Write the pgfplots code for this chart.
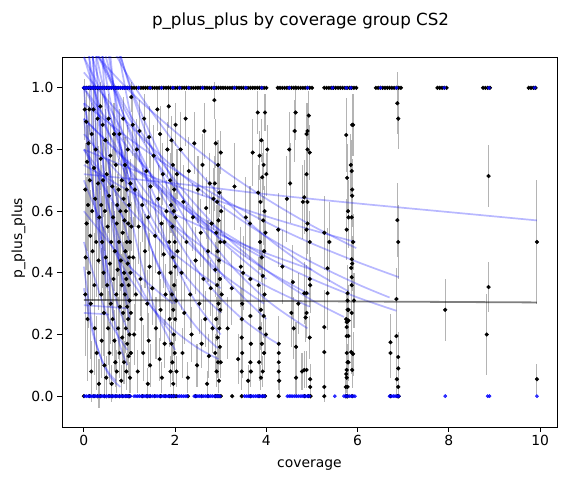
\documentclass[border=0pt]{standalone}
\usepackage{fontspec}
\setmainfont{DejaVu Sans}
\usepackage{pgfplots}
\pgfplotsset{compat=1.18}
\usepackage{pgfplotstable}
\definecolor{ebar}{RGB}{180,180,180}
\pgfplotstableread{
x y e
0.02 0.93 0.10
0.03 0.67 0.15
0.04 0.45 0.20
0.03 0.33 0.20
0.05 0.89 0.10
0.06 0.56 0.15
0.07 0.76 0.12
0.08 0.25 0.20
0.09 0.62 0.15
0.10 0.82 0.12
0.11 0.40 0.18
0.12 0.93 0.08
0.13 0.70 0.13
0.14 0.52 0.15
0.15 0.30 0.18
0.16 0.08 0.10
0.17 0.85 0.10
0.18 0.60 0.15
0.19 0.47 0.16
0.21 0.93 0.08
0.22 0.74 0.12
0.23 0.36 0.17
0.24 0.22 0.15
0.25 0.64 0.14
0.26 0.80 0.10
0.27 0.50 0.18
0.28 0.14 0.12
0.30 0.90 0.10
0.31 0.69 0.12
0.32 0.44 0.16
0.33 0.04 0.08
0.34 0.58 0.15
0.36 0.94 0.08
0.37 0.77 0.10
0.38 0.62 0.13
0.38 0.33 0.15
0.39 0.18 0.12
0.40 0.50 0.15
0.41 0.88 0.10
0.42 0.70 0.12
0.43 0.40 0.15
0.44 0.27 0.14
0.45 0.10 0.10
0.46 0.60 0.13
0.47 0.83 0.10
0.48 0.45 0.14
0.49 0.06 0.07
0.50 0.72 0.12
0.51 0.36 0.14
0.52 0.55 0.13
0.53 0.22 0.12
0.54 0.90 0.08
0.55 0.65 0.12
0.56 0.14 0.10
0.57 0.43 0.14
0.58 0.78 0.10
0.59 0.30 0.13
0.60 0.50 0.13
0.61 0.04 0.06
0.62 0.68 0.12
0.63 0.25 0.12
0.64 0.58 0.12
0.65 0.38 0.13
0.66 0.85 0.10
0.67 0.18 0.10
0.68 0.47 0.13
0.69 0.11 0.08
0.70 0.75 0.10
0.71 0.33 0.12
0.72 0.56 0.12
0.72 0.08 0.07
0.73 0.62 0.10
0.74 0.41 0.12
0.75 0.22 0.10
0.76 0.67 0.10
0.77 0.50 0.11
0.78 0.14 0.08
0.78 0.85 0.08
0.79 0.29 0.10
0.80 0.60 0.10
0.81 0.44 0.10
0.82 0.05 0.05
0.83 0.36 0.10
0.83 0.70 0.10
0.84 0.19 0.08
0.85 0.53 0.10
0.86 0.90 0.07
0.86 0.27 0.09
0.87 0.64 0.10
0.88 0.40 0.10
0.88 0.11 0.07
0.89 0.57 0.10
0.90 0.33 0.09
0.90 0.75 0.09
0.91 0.47 0.10
0.92 0.22 0.08
0.92 0.60 0.10
0.93 0.08 0.06
0.93 0.38 0.09
0.94 0.67 0.09
0.94 0.50 0.09
0.95 0.17 0.07
0.95 0.29 0.08
0.96 0.43 0.09
0.96 0.80 0.08
0.97 0.56 0.09
0.97 0.25 0.08
0.98 0.13 0.06
0.98 0.36 0.08
0.99 0.62 0.09
0.99 0.45 0.08
1.00 0.31 0.08
1.00 0.20 0.07
1.01 0.50 0.08
1.01 0.06 0.05
1.02 0.69 0.08
1.02 0.40 0.08
1.03 0.27 0.07
1.03 0.14 0.06
1.04 0.97 0.05
1.04 0.55 0.08
1.07 0.88 0.10
1.08 0.45 0.13
1.10 0.20 0.10
1.12 0.67 0.12
1.14 0.33 0.12
1.16 0.80 0.10
1.18 0.08 0.07
1.20 0.55 0.12
1.22 0.86 0.10
1.24 0.38 0.12
1.26 0.25 0.11
1.28 0.62 0.12
1.30 0.14 0.09
1.32 0.90 0.08
1.34 0.47 0.12
1.37 0.73 0.11
1.39 0.30 0.11
1.40 0.04 0.05
1.41 0.58 0.11
1.42 0.18 0.09
1.43 0.84 0.10
1.44 0.42 0.11
1.45 0.10 0.07
1.46 0.68 0.10
1.50 0.35 0.12
1.53 0.78 0.10
1.56 0.52 0.12
1.58 0.22 0.10
1.61 0.93 0.07
1.63 0.64 0.11
1.65 0.40 0.11
1.66 0.12 0.07
1.67 0.85 0.09
1.68 0.28 0.10
1.70 0.56 0.11
1.71 0.06 0.05
1.73 0.72 0.10
1.75 0.46 0.11
1.77 0.17 0.08
1.79 0.33 0.10
1.81 0.60 0.10
1.83 0.80 0.09
1.86 0.94 0.07
1.87 0.50 0.10
1.88 0.25 0.09
1.89 0.70 0.09
1.90 0.08 0.05
1.90 0.40 0.09
1.91 0.62 0.09
1.92 0.17 0.07
1.92 0.83 0.08
1.93 0.33 0.08
1.94 0.55 0.09
1.94 0.11 0.06
1.95 0.45 0.08
1.95 0.75 0.08
1.96 0.28 0.08
1.96 0.04 0.04
1.97 0.60 0.08
1.97 0.20 0.07
1.98 0.36 0.08
1.98 0.67 0.08
1.99 0.50 0.08
1.99 0.14 0.06
2.00 0.25 0.07
2.00 0.42 0.08
2.01 0.88 0.07
2.01 0.58 0.08
2.02 0.31 0.07
2.03 0.08 0.05
2.04 0.72 0.08
2.05 0.47 0.08
2.12 0.80 0.12
2.14 0.40 0.12
2.16 0.14 0.08
2.18 0.63 0.12
2.20 0.27 0.10
2.23 0.90 0.09
2.25 0.50 0.12
2.28 0.06 0.05
2.30 0.73 0.11
2.33 0.33 0.11
2.36 0.20 0.09
2.39 0.58 0.11
2.42 0.82 0.10
2.45 0.44 0.11
2.48 0.10 0.07
2.50 0.67 0.11
2.53 0.30 0.10
2.56 0.53 0.11
2.58 0.17 0.08
2.60 0.75 0.10
2.62 0.38 0.10
2.64 0.86 0.09
2.66 0.25 0.09
2.68 0.61 0.10
2.70 0.04 0.04
2.72 0.47 0.10
2.74 0.13 0.07
2.76 0.69 0.10
2.78 0.35 0.09
2.80 0.56 0.10
2.82 0.22 0.08
2.84 0.64 0.10
2.86 0.96 0.06
2.87 0.69 0.09
2.88 0.41 0.09
2.88 0.14 0.06
2.89 0.82 0.08
2.90 0.53 0.09
2.90 0.25 0.07
2.91 0.08 0.05
2.92 0.63 0.09
2.92 0.36 0.08
2.93 0.47 0.08
2.93 0.19 0.07
2.94 0.75 0.08
2.94 0.11 0.05
2.95 0.30 0.07
2.95 0.57 0.08
2.96 0.05 0.04
2.96 0.44 0.08
2.97 0.22 0.06
2.97 0.66 0.08
2.98 0.38 0.07
2.98 0.16 0.06
2.99 0.50 0.07
2.99 0.28 0.06
3.00 0.79 0.07
3.00 0.11 0.05
3.01 0.60 0.07
3.02 0.33 0.06
3.08 0.50 0.12
3.15 0.22 0.10
3.24 0.35 0.12
3.30 0.68 0.14
3.38 0.12 0.08
3.44 0.42 0.13
3.46 0.25 0.10
3.46 0.19 0.09
3.47 0.14 0.08
3.46 0.08 0.06
3.47 0.30 0.10
3.49 0.40 0.12
3.55 0.58 0.13
3.60 0.05 0.05
3.64 0.56 0.12
3.65 0.38 0.11
3.65 0.26 0.09
3.66 0.17 0.08
3.65 0.11 0.07
3.66 0.08 0.05
3.70 0.79 0.11
3.81 0.92 0.07
3.82 0.66 0.09
3.83 0.36 0.09
3.84 0.11 0.06
3.85 0.78 0.08
3.86 0.50 0.09
3.86 0.22 0.07
3.87 0.63 0.08
3.88 0.28 0.08
3.88 0.06 0.04
3.89 0.83 0.07
3.90 0.45 0.08
3.90 0.17 0.07
3.91 0.71 0.08
3.92 0.39 0.08
3.92 0.08 0.05
3.93 0.57 0.08
3.94 0.26 0.07
3.94 0.75 0.08
3.95 0.47 0.08
3.95 0.14 0.06
3.96 0.60 0.08
3.96 0.33 0.07
3.97 0.92 0.06
3.98 0.53 0.07
3.99 0.20 0.06
4.00 0.72 0.07
4.02 0.80 0.08
4.26 0.54 0.12
4.27 0.17 0.09
4.27 0.14 0.08
4.27 0.11 0.07
4.27 0.08 0.06
4.28 0.05 0.05
4.35 0.42 0.12
4.45 0.64 0.14
4.50 0.80 0.12
4.52 0.69 0.13
4.55 0.27 0.11
4.58 0.37 0.12
4.60 0.22 0.10
4.62 0.86 0.10
4.64 0.92 0.09
4.65 0.16 0.08
4.65 0.06 0.06
4.70 0.30 0.10
4.78 0.08 0.06
4.80 0.63 0.12
4.88 0.85 0.10
4.90 0.86 0.09
4.93 0.91 0.08
4.90 0.80 0.10
4.95 0.79 0.09
4.88 0.72 0.10
4.90 0.63 0.10
4.83 0.645 0.12
4.90 0.56 0.10
4.88 0.54 0.10
4.95 0.50 0.10
4.95 0.38 0.09
4.96 0.36 0.09
4.83 0.334 0.10
4.88 0.334 0.09
4.88 0.27 0.08
4.86 0.255 0.08
4.95 0.19 0.07
4.83 0.085 0.06
4.88 0.085 0.06
4.96 0.055 0.05
4.96 0.03 0.04
5.27 0.53 0.12
5.27 0.224 0.12
5.27 0.143 0.10
5.27 0.03 0.05
5.38 0.50 0.13
5.34 0.415 0.13
5.34 0.334 0.12
5.75 0.847 0.12
5.88 0.88 0.10
5.90 0.88 0.10
5.77 0.708 0.11
5.85 0.75 0.10
5.87 0.73 0.10
5.88 0.67 0.10
5.88 0.65 0.10
5.79 0.60 0.10
5.80 0.58 0.10
5.87 0.58 0.10
5.76 0.54 0.10
5.90 0.50 0.09
5.87 0.444 0.09
5.88 0.43 0.09
5.86 0.416 0.09
5.87 0.386 0.09
5.87 0.36 0.09
5.78 0.334 0.09
5.78 0.31 0.09
5.92 0.31 0.09
5.78 0.28 0.08
5.80 0.28 0.08
5.87 0.27 0.08
5.75 0.25 0.08
5.80 0.245 0.08
5.76 0.24 0.08
5.76 0.224 0.08
5.80 0.195 0.07
5.76 0.195 0.07
5.76 0.14 0.07
5.86 0.143 0.07
5.90 0.137 0.07
5.78 0.11 0.06
5.80 0.11 0.06
5.76 0.085 0.06
5.88 0.085 0.06
5.75 0.072 0.05
5.76 0.06 0.05
5.74 0.03 0.04
5.78 0.03 0.04
6.87 0.95 0.10
6.89 0.90 0.10
6.87 0.571 0.12
6.89 0.50 0.12
6.85 0.315 0.10
6.85 0.195 0.09
6.72 0.175 0.09
6.72 0.14 0.08
6.89 0.127 0.08
6.89 0.09 0.07
6.86 0.055 0.05
6.89 0.03 0.04
7.92 0.28 0.10
8.87 0.714 0.10
8.87 0.354 0.08
8.83 0.20 0.13
9.93 0.50 0.20
9.93 0.055 0.05
}\pts
\pgfplotsset{bl/.style={color=blue, draw opacity=0.28, line width=1.7bp, smooth, mark=none, forget plot}}
\begin{document}
\begin{tikzpicture}
\useasboundingbox (0,0) rectangle (567bp,480bp);
\begin{axis}[
 at={(62bp,53bp)}, anchor=south west, scale only axis,
 width=495bp, height=370bp,
 xmin=-0.48, xmax=10.37, ymin=-0.1, ymax=1.1,
 xtick={0,2,4,6,8,10}, ytick={0,0.2,0.4,0.6,0.8,1.0},
 yticklabel style={/pgf/number format/.cd, fixed, fixed zerofill, precision=1},
 /pgf/number format/assume math mode=true,
 tick label style={font=\fontsize{13.9bp}{16bp}\selectfont, black},
 tick align=outside, tick pos=left,
 major tick length=4.9bp,
 every tick/.style={black, line width=0.9bp},
 axis line style={line width=0.9bp},
]
% error bars
\addplot[forget plot, draw=none, mark=none, error bars/.cd, y dir=both, y explicit, error mark=none,
  error bar style={draw=ebar, line width=1.1bp}] table[x=x, y=y, y error=e] {\pts};
% points
\addplot[forget plot, only marks, mark=*, mark size=1.9bp, black] table[x=x, y=y] {\pts};
% row y = 1 (black)
\addplot[forget plot, only marks, mark=*, mark size=1.9bp, black] coordinates {
(0.00,1)(0.05,1)(0.10,1)(0.15,1)(0.20,1)(0.25,1)(0.30,1)(0.35,1)(0.40,1)(0.45,1)
(0.50,1)(0.55,1)(0.60,1)(0.65,1)(0.70,1)(0.75,1)(0.80,1)(0.85,1)(0.90,1)(0.95,1)
(1.00,1)(1.05,1)(1.10,1)(1.15,1)(1.20,1)(1.25,1)(1.30,1)(1.35,1)(1.40,1)(1.45,1)
(1.50,1)(1.55,1)(1.60,1)(1.65,1)(1.70,1)(1.75,1)(1.80,1)(1.85,1)(1.90,1)(1.95,1)
(2.00,1)(2.05,1)(2.10,1)(2.15,1)(2.20,1)(2.25,1)(2.30,1)(2.35,1)(2.40,1)(2.45,1)
(2.50,1)(2.55,1)(2.60,1)(2.65,1)(2.70,1)(2.75,1)(2.80,1)(2.85,1)(2.90,1)(2.95,1)
(3.00,1)(3.05,1)(3.10,1)(3.15,1)(3.20,1)(3.25,1)(3.30,1)(3.35,1)(3.40,1)(3.45,1)
(3.50,1)(3.55,1)(3.60,1)(3.65,1)(3.70,1)(3.75,1)(3.80,1)(3.85,1)(3.90,1)(3.95,1)
(4.00,1)
(4.25,1)(4.30,1)(4.35,1)(4.40,1)(4.45,1)(4.50,1)(4.55,1)(4.60,1)(4.65,1)(4.70,1)
(4.75,1)(4.80,1)(4.85,1)(4.90,1)(4.95,1)(5.00,1)
(5.27,1)(5.32,1)(5.37,1)(5.42,1)(5.47,1)(5.52,1)(5.57,1)(5.62,1)(5.67,1)(5.72,1)
(5.77,1)(5.82,1)(5.87,1)(5.92,1)(5.97,1)
(6.40,1)(6.45,1)(6.50,1)(6.55,1)(6.60,1)(6.65,1)(6.70,1)(6.75,1)(6.80,1)(6.85,1)
(6.90,1)(6.95,1)
(7.75,1)(7.80,1)(7.85,1)(7.90,1)(7.95,1)
(8.75,1)(8.80,1)(8.85,1)(8.90,1)
(9.75,1)(9.80,1)(9.85,1)(9.90,1)
};
% row y = 0 (black)
\addplot[forget plot, only marks, mark=*, mark size=1.9bp, black] coordinates {
(0.00,0)(0.12,0)(0.22,0)(0.30,0)(0.36,0)(0.45,0)(0.55,0)(0.62,0)(0.70,0)(0.78,0)
(0.85,0)(0.92,0)(0.97,0)(1.00,0)(1.28,0)(1.38,0)(1.45,0)(1.55,0)(1.68,0)(1.78,0)
(1.87,0)(1.92,0)(1.97,0)(2.02,0)(2.28,0)(2.45,0)(2.58,0)(2.72,0)(2.88,0)(2.92,0)
(2.96,0)(3.00,0)(3.25,0)(3.46,0)(3.65,0)(3.84,0)(3.92,0)(3.97,0)(4.27,0)(4.84,0)
(4.92,0)(4.97,0)(5.27,0)(5.75,0)(5.78,0)(5.88,0)(6.72,0)(6.87,0)(6.90,0)
};
% fitted curves
\addplot[bl] coordinates {(0,0.72)(2,0.69)(4,0.655)(6,0.625)(8,0.597)(9.93,0.57)};
\addplot[bl] coordinates {(0,0.95)(1,0.834)(2,0.732)(3,0.643)(4,0.564)(5,0.495)(6,0.435)(6.9,0.386)};
\addplot[bl] coordinates {(0,1.05)(1,0.88)(2,0.737)(3,0.618)(4,0.518)(5,0.434)(6,0.363)(6.7,0.32)};
\addplot[bl] coordinates {(0,0.9)(1,0.758)(2,0.638)(3,0.537)(4,0.452)(5,0.38)(6,0.32)(6.85,0.277)};
\addplot[bl] coordinates {(0,1.15)(1,0.99)(2,0.858)(3,0.74)(4,0.64)(5,0.553)(5.97,0.48)};
\addplot[bl] coordinates {(0,1.2)(1,0.916)(2,0.7)(3,0.534)(4,0.408)(5,0.311)(5.7,0.257)};
\addplot[bl] coordinates {(0,0.85)(1,0.684)(2,0.551)(3,0.443)(4,0.357)(4.95,0.29)};
\addplot[bl] coordinates {(0,0.8)(1,0.739)(2,0.683)(3,0.631)(4,0.583)(5,0.539)(5.95,0.5)};
\addplot[bl] coordinates {(0,1.3)(1,1.03)(2,0.819)(3,0.65)(4,0.516)(5,0.409)(5.8,0.34)};
\addplot[bl] coordinates {(0,1.4)(0.5,1.09)(1,0.854)(1.5,0.666)(2,0.52)(2.5,0.406)(3,0.317)(3.5,0.247)(4,0.193)(4.3,0.166)};
\addplot[bl] coordinates {(0,1.0)(1,0.737)(2,0.543)(3,0.4)(3.95,0.3)};
\addplot[bl] coordinates {(0,1.2)(1,0.9)(2,0.675)(3,0.506)(4,0.38)};
\addplot[bl] coordinates {(0,0.9)(1,0.753)(2,0.63)(3,0.527)(3.9,0.45)};
\addplot[bl] coordinates {(0,1.6)(0.5,1.27)(1,1.007)(1.5,0.8)(2,0.63)(3,0.4)(4,0.25)};
\addplot[bl] coordinates {(0,1.5)(0.5,1.02)(1,0.694)(1.5,0.472)(2,0.321)(2.5,0.218)(2.93,0.156)};
\addplot[bl] coordinates {(0,1.1)(0.5,0.872)(1,0.69)(1.5,0.547)(2,0.433)(2.5,0.343)(3,0.27)};
\addplot[bl] coordinates {(0,0.8)(1,0.607)(2,0.46)(3,0.35)};
\addplot[bl] coordinates {(0,1.3)(0.5,1.06)(1,0.866)(1.5,0.707)(2,0.577)(2.5,0.471)(2.9,0.4)};
\addplot[bl] coordinates {(0,2.0)(0.5,1.36)(1,0.928)(1.5,0.633)(2,0.431)(2.5,0.294)(3,0.2)};
\addplot[bl] coordinates {(0,0.7)(0.5,0.52)(1,0.384)(1.5,0.285)(2,0.211)(2.5,0.156)(2.95,0.12)};
\addplot[bl] coordinates {(0,1.8)(0.5,1.15)(1,0.735)(1.5,0.47)(2,0.3)};
\addplot[bl] coordinates {(0,1.2)(0.5,0.94)(1,0.734)(1.5,0.575)(2,0.45)};
\addplot[bl] coordinates {(0,0.95)(0.5,0.637)(1,0.427)(1.5,0.286)(1.95,0.2)};
\addplot[bl] coordinates {(0,2.5)(0.5,1.24)(1,0.616)(1.5,0.306)(2,0.15)};
\addplot[bl] coordinates {(0,1.1)(1,0.818)(2.05,0.6)};
\addplot[bl] coordinates {(0,0.6)(1,0.421)(1.95,0.3)};
\addplot[bl] coordinates {(0,1.5)(0.25,1.0)(0.5,0.67)(0.75,0.449)(1,0.3)};
\addplot[bl] coordinates {(0,2.0)(0.25,0.91)(0.5,0.414)(0.75,0.189)(0.95,0.1)};
\addplot[bl] coordinates {(0,1.2)(0.5,0.774)(1,0.5)};
\addplot[bl] coordinates {(0,0.9)(0.25,0.619)(0.5,0.425)(0.75,0.292)(1,0.2)};
\addplot[bl] coordinates {(0,0.5)(0.5,0.265)(0.95,0.15)};
\addplot[bl] coordinates {(0,0.42)(0.2,0.216)(0.4,0.112)(0.6,0.058)(0.8,0.03)};
\addplot[bl] coordinates {(0,0.35)(0.2,0.201)(0.4,0.116)(0.55,0.075)(0.7,0.05)};
\addplot[bl] coordinates {(0,1.3)(0.5,0.954)(1,0.7)};
\addplot[bl] coordinates {(0,3.0)(0.25,1.61)(0.5,0.867)(0.75,0.466)(1,0.25)};
\addplot[bl] coordinates {(0,0.8)(0.5,0.663)(1,0.55)};
\addplot[bl] coordinates {(0,1.6)(0.125,1.09)(0.25,0.748)(0.375,0.512)(0.5,0.35)};
\addplot[bl] coordinates {(0,1.0)(0.15,0.737)(0.3,0.543)(0.45,0.4)};
\addplot[bl] coordinates {(0,2.2)(0.125,1.6)(0.25,1.15)(0.375,0.83)(0.5,0.6)};
\addplot[bl] coordinates {(0,1.0)(1,0.8)(2,0.639)(3,0.511)(4,0.408)(4.95,0.33)};
\addplot[bl] coordinates {(0,1.5)(1,1.014)(2,0.686)(3,0.463)(4,0.313)(4.9,0.22)};
\addplot[bl] coordinates {(0,0.75)(1,0.665)(2,0.589)(3,0.522)(4,0.463)(5,0.41)};
\addplot[bl] coordinates {(0,0.295)(0.5,0.29)(0.95,0.285)};
\addplot[bl] coordinates {(0,0.27)(0.55,0.265)};
% overall fit
\addplot[forget plot, black, draw opacity=0.5, line width=1.8bp, mark=none] coordinates {(0,0.312)(9.93,0.304)};
% blue rows
\addplot[forget plot, only marks, mark=*, mark size=1.7bp, blue, mark options={draw opacity=0.8, fill opacity=0.8}] coordinates {
(0.00,1)(0.04,1)(0.08,1)(0.12,1)(0.16,1)(0.20,1)(0.24,1)(0.28,1)(0.32,1)(0.36,1)
(0.40,1)(0.44,1)(0.48,1)(0.52,1)(0.56,1)(0.60,1)(0.64,1)(0.68,1)(0.72,1)(0.76,1)
(0.80,1)(0.84,1)(0.88,1)(0.92,1)(0.96,1)(1.00,1)
(1.20,1)(1.45,1)(1.70,1)(1.95,1)(2.10,1)(2.30,1)(2.60,1)(2.85,1)(3.30,1)(3.55,1)
(3.90,1)(4.50,1)(4.90,1)(5.45,1)(5.75,1)(5.85,1)(6.50,1)(6.85,1)(7.90,1)(8.88,1)(9.88,1)
(0.02,0)(0.06,0)(0.10,0)(0.14,0)(0.18,0)(0.22,0)(0.26,0)(0.30,0)(0.34,0)(0.38,0)
(0.42,0)(0.46,0)(0.50,0)(0.54,0)(0.58,0)(0.62,0)(0.66,0)(0.70,0)(0.74,0)(0.78,0)
(0.82,0)(0.86,0)(0.90,0)(0.94,0)(0.98,0)(1.02,0)
(1.10,0)(1.14,0)(1.18,0)(1.22,0)(1.26,0)(1.30,0)(1.34,0)(1.38,0)(1.42,0)(1.46,0)
(1.50,0)(1.54,0)(1.58,0)(1.62,0)(1.66,0)(1.70,0)(1.74,0)(1.78,0)(1.82,0)(1.86,0)
(1.90,0)(1.94,0)(1.98,0)
(2.06,0)(2.10,0)(2.14,0)(2.18,0)(2.22,0)(2.26,0)
(2.42,0)(2.46,0)(2.50,0)(2.54,0)(2.58,0)(2.62,0)(2.66,0)(2.70,0)(2.74,0)(2.78,0)
(2.82,0)(2.86,0)(2.90,0)(2.94,0)(2.98,0)
(3.52,0)(3.56,0)(3.60,0)(3.64,0)(3.68,0)(3.72,0)(3.76,0)(3.80,0)(3.84,0)(3.88,0)
(3.92,0)(3.96,0)
(4.46,0)(4.50,0)(4.54,0)(4.58,0)(4.62,0)(4.66,0)(4.70,0)(4.74,0)(4.78,0)(4.82,0)
(4.86,0)(4.90,0)(4.94,0)
(5.50,0)(5.70,0)(5.74,0)(5.78,0)(5.82,0)(5.86,0)(5.90,0)(5.94,0)
(6.70,0)(6.74,0)(6.78,0)(6.82,0)(6.86,0)(6.90,0)(7.92,0)(8.85,0)(8.89,0)(9.93,0)
};
\end{axis}
\node[font=\fontsize{16.7bp}{20bp}\selectfont, anchor=base] at (300.5bp,454bp) {p\_plus\_plus by coverage group CS2};
\node[font=\fontsize{13.9bp}{16bp}\selectfont, anchor=base] at (309.5bp,13bp) {coverage};
\node[font=\fontsize{13.9bp}{16bp}\selectfont, anchor=base, rotate=90] at (22bp,242bp) {p\_plus\_plus};
\end{tikzpicture}
\end{document}
